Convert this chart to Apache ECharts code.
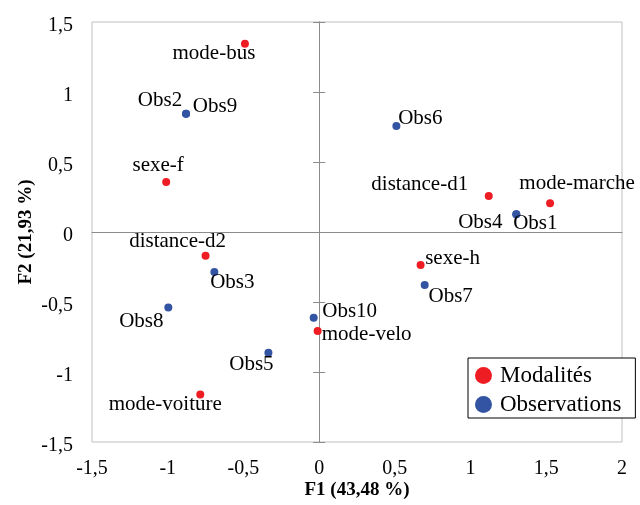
<!DOCTYPE html>
<html>
<head>
<meta charset="utf-8">
<script src="https://cdn.jsdelivr.net/npm/echarts@6/dist/echarts.min.js"></script>
<style>
html,body{margin:0;padding:0;background:#fff;}
#chart{width:640px;height:505px;}
</style>
</head>
<body>
<div id="chart"></div>
<script>
// Data
const modNames = ['mode-bus', 'sexe-f', 'distance-d1', 'mode-marche', 'distance-d2', 'sexe-h', 'mode-velo', 'mode-voiture'];
const modX = [-0.49, -1.01, 1.12, 1.525, -0.75, 0.67, -0.01, -0.785];
const modY = [1.345, 0.357, 0.257, 0.205, -0.169, -0.236, -0.707, -1.16];

const obsNames = ['Obs2', 'Obs9', 'Obs6', 'Obs4', 'Obs1', 'Obs3', 'Obs7', 'Obs8', 'Obs10', 'Obs5'];
const obsX = [-0.879, -0.879, 0.51, 1.302, 1.302, -0.692, 0.697, -0.996, -0.036, -0.335];
const obsY = [0.845, 0.845, 0.757, 0.126, 0.126, -0.286, -0.379, -0.54, -0.612, -0.862];

const xTicks = { min: -1.5, max: 2, interval: 0.5 };
const yTicks = { min: -1.5, max: 1.5, interval: 0.5 };
const xTitle = 'F1 (43,48 %)';
const yTitle = 'F2 (21,93 %)';

// Label layout (offsets in px from the point centre)
const modLabelOffsets = [[-31, 10], [-8, -17], [-69, -12], [27, -20], [-28, -14], [32, -7], [49, 4], [-35, 10]];
const obsLabelOffsets = [[-26, -13], [29, -7], [24, -8], [-36, 8], [19, 9], [18, 10], [26, 11], [-27, 14], [36, -6], [-17, 12]];

const FONT = '"Liberation Serif", "Times New Roman", serif';
const RED = '#ee1d24';
const BLUE = '#3353a3';
const fmt = v => String(v).replace('.', ',');

function buildData(names, xs, ys, offsets) {
  return names.map((n, i) => ({
    name: n,
    value: [xs[i], ys[i]],
    label: { offset: offsets[i] }
  }));
}

const chart = echarts.init(document.getElementById('chart'), null, { renderer: 'canvas' });

const labelAxisCommon = {
  type: 'value',
  axisLine: { show: false, onZero: false },
  axisTick: { show: false },
  splitLine: { show: false },
  axisLabel: { formatter: fmt, color: '#000', fontFamily: FONT, fontSize: 20 }
};
const zeroAxisCommon = {
  type: 'value',
  axisLine: { show: true, onZero: true, onZeroAxisIndex: 0, lineStyle: { color: '#8c8c8c', width: 1 } },
  axisLabel: { show: false },
  splitLine: { show: false }
};
const tick = { show: true, length: 6, inside: false, lineStyle: { color: '#8c8c8c' } };

const option = {
  animation: false,
  backgroundColor: '#fff',
  grid: { left: 92, top: 22, right: 18, bottom: 63, show: true, borderColor: '#bfbfbf', borderWidth: 1, backgroundColor: 'transparent' },
  xAxis: [
    Object.assign({}, labelAxisCommon, xTicks, {
      position: 'bottom',
      axisLabel: Object.assign({}, labelAxisCommon.axisLabel, { margin: 17 }),
      name: xTitle, nameLocation: 'middle', nameGap: 39, nameMoveOverlap: false,
      nameTextStyle: { fontFamily: FONT, fontSize: 19, fontWeight: 'bold', color: '#000' }
    }),
    Object.assign({}, zeroAxisCommon, xTicks, { position: 'bottom', axisTick: { show: false } })
  ],
  yAxis: [
    Object.assign({}, labelAxisCommon, yTicks, {
      position: 'left',
      axisLabel: Object.assign({}, labelAxisCommon.axisLabel, {
        margin: 19,
        formatter: v => '{t|' + fmt(v) + '}',
        rich: { t: { fontFamily: FONT, fontSize: 20, color: '#000', padding: [8, 0, 0, 0] } }
      }),
      name: yTitle, nameLocation: 'middle', nameGap: 56, nameRotate: 90, nameMoveOverlap: false,
      nameTextStyle: { fontFamily: FONT, fontSize: 19, fontWeight: 'bold', color: '#000' }
    }),
    Object.assign({}, zeroAxisCommon, yTicks, { position: 'left', axisTick: tick }),
    Object.assign({}, zeroAxisCommon, yTicks, { position: 'right', axisTick: tick })
  ],
  legend: {
    orient: 'vertical',
    left: 468, top: 358,
    backgroundColor: '#fff',
    borderColor: '#000', borderWidth: 1, borderRadius: 0,
    padding: [6, 14, 2, 7],
    itemWidth: 17, itemHeight: 17, itemGap: 6,
    icon: 'circle',
    textStyle: { fontFamily: FONT, fontSize: 23, color: '#000', padding: [0, 0, 0, 3] },
    data: ['Modalités', 'Observations']
  },
  series: [
    {
      name: 'Modalités', type: 'scatter', xAxisIndex: 0, yAxisIndex: 0,
      symbol: 'circle', symbolSize: 8,
      itemStyle: { color: RED, opacity: 1 },
      label: { show: true, position: 'inside', align: 'center', verticalAlign: 'middle', formatter: '{b}', color: '#000', fontFamily: FONT, fontSize: 21 },
      emphasis: { disabled: true },
      data: buildData(modNames, modX, modY, modLabelOffsets)
    },
    {
      name: 'Observations', type: 'scatter', xAxisIndex: 0, yAxisIndex: 0,
      symbol: 'circle', symbolSize: 8,
      itemStyle: { color: BLUE, opacity: 1 },
      label: { show: true, position: 'inside', align: 'center', verticalAlign: 'middle', formatter: '{b}', color: '#000', fontFamily: FONT, fontSize: 21 },
      emphasis: { disabled: true },
      data: buildData(obsNames, obsX, obsY, obsLabelOffsets)
    }
  ]
};
chart.setOption(option);
</script>
</body>
</html>
